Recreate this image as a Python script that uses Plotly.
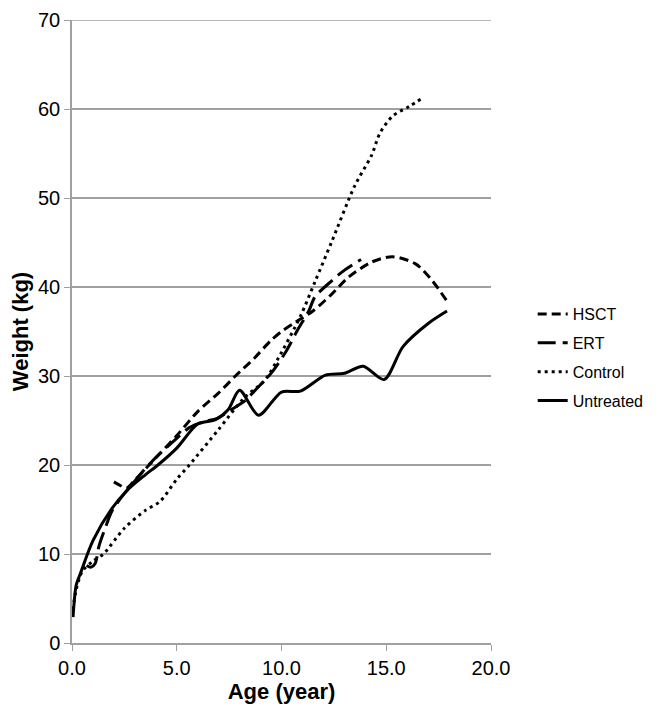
import plotly.graph_objects as go

# ---- data ----
hsct_age = [2.0, 2.3, 2.6, 3.0, 3.6, 4.2, 5.0, 6.0, 7.0, 7.8, 8.7, 9.5, 10.0, 10.7, 11.5, 12.4, 13.2, 14.3, 15.3, 16.4, 17.2, 17.9]
hsct_wt = [18.1, 17.7, 17.4, 18.3, 19.8, 21.3, 23.3, 26.0, 28.1, 30.0, 32.0, 34.0, 35.0, 36.1, 37.3, 39.2, 41.1, 42.8, 43.4, 42.6, 40.7, 38.4]

ert_age = [0.7, 0.9, 1.1, 1.3, 1.6, 1.9, 2.4, 3.0, 3.5, 4.2, 5.0, 5.6, 6.3, 6.9, 7.45, 8.3, 8.7, 9.5, 10.2, 10.8, 11.3, 11.6, 12.4, 12.9, 13.8]
ert_wt = [8.7, 8.5, 8.9, 11.0, 13.0, 14.8, 16.5, 18.2, 19.6, 21.3, 23.0, 24.2, 24.9, 25.2, 26.0, 27.3, 28.3, 30.3, 32.7, 35.3, 37.3, 38.9, 40.7, 41.7, 43.1]

control_age = [0.0, 0.2, 0.5, 1.0, 1.5, 2.5, 3.5, 4.2, 5.0, 5.6, 7.0, 8.2, 9.2, 9.8, 10.9, 11.6, 12.4, 13.5, 14.3, 14.7, 15.3, 16.1, 16.7]
control_wt = [3.0, 6.0, 8.1, 9.2, 10.0, 12.9, 14.9, 15.9, 18.4, 20.0, 24.0, 27.5, 29.5, 31.8, 36.7, 40.6, 45.1, 51.4, 54.8, 57.3, 59.2, 60.3, 61.2]

untreated_age = [0.05, 0.2, 0.4, 1.0, 1.9, 2.7, 3.5, 4.1, 5.0, 6.0, 6.85, 7.45, 8.0, 8.9, 10.0, 10.9, 12.1, 13.0, 13.9, 14.9, 15.8, 17.0, 17.9]
untreated_wt = [2.9, 6.5, 7.8, 11.5, 15.1, 17.3, 18.9, 20.0, 21.9, 24.6, 25.1, 26.2, 28.4, 25.6, 28.2, 28.3, 30.1, 30.3, 31.1, 29.6, 33.3, 35.9, 37.3]

x_ticks = [0, 5, 10, 15, 20]
x_tick_labels = ["0.0", "5.0", "10.0", "15.0", "20.0"]
y_ticks = [0, 10, 20, 30, 40, 50, 60, 70]
y_max = 70

FONT = "Liberation Sans, Arial, sans-serif"
AXIS_GREY = "#a0a0a0"

fig = go.Figure()
series = [
    ("HSCT", hsct_age, hsct_wt, "9px,5px"),
    ("ERT", ert_age, ert_wt, "18px,7px"),
    ("Control", control_age, control_wt, "3px,4px"),
    ("Untreated", untreated_age, untreated_wt, "solid"),
]
for name, xs, ys, dash in series:
    fig.add_trace(go.Scatter(
        x=xs, y=ys, name=name, legendgroup=name, mode="lines",
        line=dict(color="black", width=3, dash=dash, shape="spline", smoothing=0.8),
    ))

# top gridline at the range edge (plotly omits it)
fig.add_shape(type="line", xref="paper", x0=0, x1=1, yref="y", y0=y_max, y1=y_max,
              line=dict(color=AXIS_GREY, width=1.5), layer="below")

# page body has an 8px margin, so the figure is 8px smaller than the window
fig.update_layout(
    width=653, height=699,
    margin=dict(l=64, r=157, t=12, b=64),
    paper_bgcolor="white", plot_bgcolor="white",
    font=dict(family=FONT, color="black"),
    showlegend=True,
    legend=dict(x=1.0995, xanchor="left", y=0.458, yanchor="middle",
                font=dict(size=16, family=FONT), bgcolor="rgba(0,0,0,0)",
                tracegroupgap=5, itemwidth=30),
    xaxis=dict(range=[0, 20], tickvals=x_ticks, ticktext=x_tick_labels,
               automargin=False, ticklabeloverflow="allow",
               showgrid=False, zeroline=False, showline=True, linecolor=AXIS_GREY,
               linewidth=1.5, ticks="outside", ticklen=6, tickcolor=AXIS_GREY,
               tickfont=dict(size=20, family=FONT),
               title=dict(text="<b>Age (year)</b>", font=dict(size=22, family=FONT), standoff=6)),
    yaxis=dict(range=[0, y_max], tickvals=y_ticks, showgrid=True, gridcolor=AXIS_GREY,
               automargin=False, ticklabeloverflow="allow",
               gridwidth=1.5, zeroline=False, showline=True, linecolor=AXIS_GREY,
               linewidth=1.5, ticks="outside", ticklen=6, tickcolor=AXIS_GREY,
               tickfont=dict(size=20, family=FONT),
               title=dict(text="<b>Weight (kg)</b>", font=dict(size=22, family=FONT), standoff=8)),
)

fig.write_html("out.html", config={"displayModeBar": False})
